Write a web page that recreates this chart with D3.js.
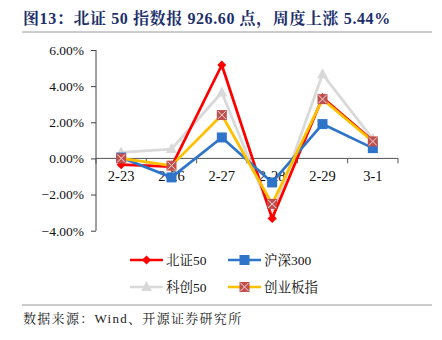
<!DOCTYPE html>
<html><head><meta charset="utf-8">
<script src="https://cdn.jsdelivr.net/npm/d3@7"></script>
<style>body{margin:0;background:#fff}svg{display:block}</style>
</head><body>
<script>
const categories = ["2-23","2-26","2-27","2-28","2-29","3-1"];
const bz50 = [-0.35,-0.45,5.17,-3.33,3.37,0.98];
const hs300 = [0.05,-1.05,1.16,-1.33,1.90,0.57];
const kc50 = [0.33,0.52,3.65,-3.17,4.66,1.07];
const cybz = [0.00,-0.40,2.40,-2.52,3.28,0.94];
const yTicks = [6,4,2,0,-2,-4];
const seriesNames = ["北证50","沪深300","科创50","创业板指"];

const W=442,H=340;
const svg=d3.select("body").append("svg").attr("width",W).attr("height",H);
const serif="'Liberation Serif','Times New Roman','Noto Serif CJK SC','Noto Sans CJK SC',serif";

// title
svg.append("text").attr("x",23).attr("y",24).attr("fill","#1c2f6b")
  .attr("font-family",serif).attr("font-weight","bold").attr("font-size",16).attr("letter-spacing",0.6)
  .text("图13：北证 50 指数报 926.60 点，周度上涨 5.44%");
svg.append("line").attr("x1",22).attr("x2",432).attr("y1",32).attr("y2",32).attr("stroke","#999").attr("stroke-width",1.2);
svg.append("line").attr("x1",22).attr("x2",432).attr("y1",305).attr("y2",305).attr("stroke","#999").attr("stroke-width",1.2);
svg.append("text").attr("x",23).attr("y",323).attr("fill","#222")
  .attr("font-family",serif).attr("font-size",13).attr("letter-spacing",1.3)
  .text("数据来源：Wind、开源证券研究所");

const x=d3.scaleBand().domain(categories).range([96,398]);
const y=d3.scaleLinear().domain([-4,6]).range([230.7,50]);

// y axis
const ya=svg.append("g").attr("transform","translate(96,0)")
  .call(d3.axisLeft(y).tickValues(yTicks).tickFormat(d=>d3.format(".2f")(d)+"%").tickSize(5).tickPadding(7));
ya.select(".domain").attr("stroke","#444").attr("d","M0,"+y(6)+"V"+y(-4)).attr("stroke-width",1);
ya.selectAll(".tick line").attr("stroke","#444").attr("x1",-5).attr("x2",0);
ya.selectAll("text").attr("font-family",serif).attr("font-size",13.5).attr("fill","#111");

// x axis at zero
const xa=svg.append("g").attr("transform","translate(0,"+y(0)+")");
xa.append("line").attr("x1",96).attr("x2",398).attr("stroke","#555").attr("stroke-width",1);
const bounds=categories.map(c=>x(c)).concat([398]);
xa.selectAll(".tk").data(bounds).join("line").attr("x1",d=>d).attr("x2",d=>d).attr("y1",0).attr("y2",5).attr("stroke","#555");
xa.selectAll(".lb").data(categories).join("text").attr("x",d=>x(d)+x.bandwidth()/2).attr("y",23)
  .attr("text-anchor","middle").attr("font-family",serif).attr("font-size",14.5).attr("fill","#111").text(d=>d);

const cx=c=>x(c)+x.bandwidth()/2;
const line=d3.line().x((d,i)=>cx(categories[i])).y(d=>y(d));

function marker(g,type,px,py){
  if(type==="diamond"){
    g.append("path").attr("d",`M${px},${py-4.5}L${px+4.5},${py}L${px},${py+4.5}L${px-4.5},${py}Z`).attr("fill","#ff0000");
  } else if(type==="square"){
    g.append("rect").attr("x",px-5).attr("y",py-5).attr("width",10).attr("height",10).attr("fill","#2e75c9");
  } else if(type==="tri"){
    g.append("path").attr("d",`M${px},${py-6}L${px+5.5},${py+4}L${px-5.5},${py+4}Z`).attr("fill","#d9d9d9");
  } else if(type==="xsq"){
    g.append("rect").attr("x",px-5).attr("y",py-5).attr("width",10).attr("height",10).attr("fill","#c0504d");
    g.append("path").attr("d",`M${px-4},${py-4}L${px+4},${py+4}M${px+4},${py-4}L${px-4},${py+4}`).attr("stroke","#f2dcdb").attr("stroke-width",1);
  }
}
const series=[
  {data:kc50,color:"#d9d9d9",m:"tri"},
  {data:bz50,color:"#ff0000",m:"diamond"},
  {data:hs300,color:"#2e75c9",m:"square"},
  {data:cybz,color:"#ffc000",m:"xsq"}
];
series.forEach(s=>{
  const g=svg.append("g");
  g.append("path").attr("d",line(s.data)).attr("fill","none").attr("stroke",s.color).attr("stroke-width",2.75).attr("stroke-linejoin","round");
  s.data.forEach((v,i)=>marker(g,s.m,cx(categories[i]),y(v)));
});

// legend
const leg=[
  {name:seriesNames[0],color:"#ff0000",m:"diamond",x:130,y:260},
  {name:seriesNames[1],color:"#2e75c9",m:"square",x:228,y:260},
  {name:seriesNames[2],color:"#d9d9d9",m:"tri",x:130,y:287},
  {name:seriesNames[3],color:"#ffc000",m:"xsq",x:228,y:287}
];
leg.forEach(l=>{
  const g=svg.append("g");
  g.append("line").attr("x1",l.x).attr("x2",l.x+33).attr("y1",l.y).attr("y2",l.y).attr("stroke",l.color).attr("stroke-width",2.5);
  marker(g,l.m,l.x+16.5,l.y);
  g.append("text").attr("x",l.x+36).attr("y",l.y+5).attr("font-family",serif).attr("font-size",13.5).attr("fill","#111").text(l.name);
});
</script>
</body></html>
